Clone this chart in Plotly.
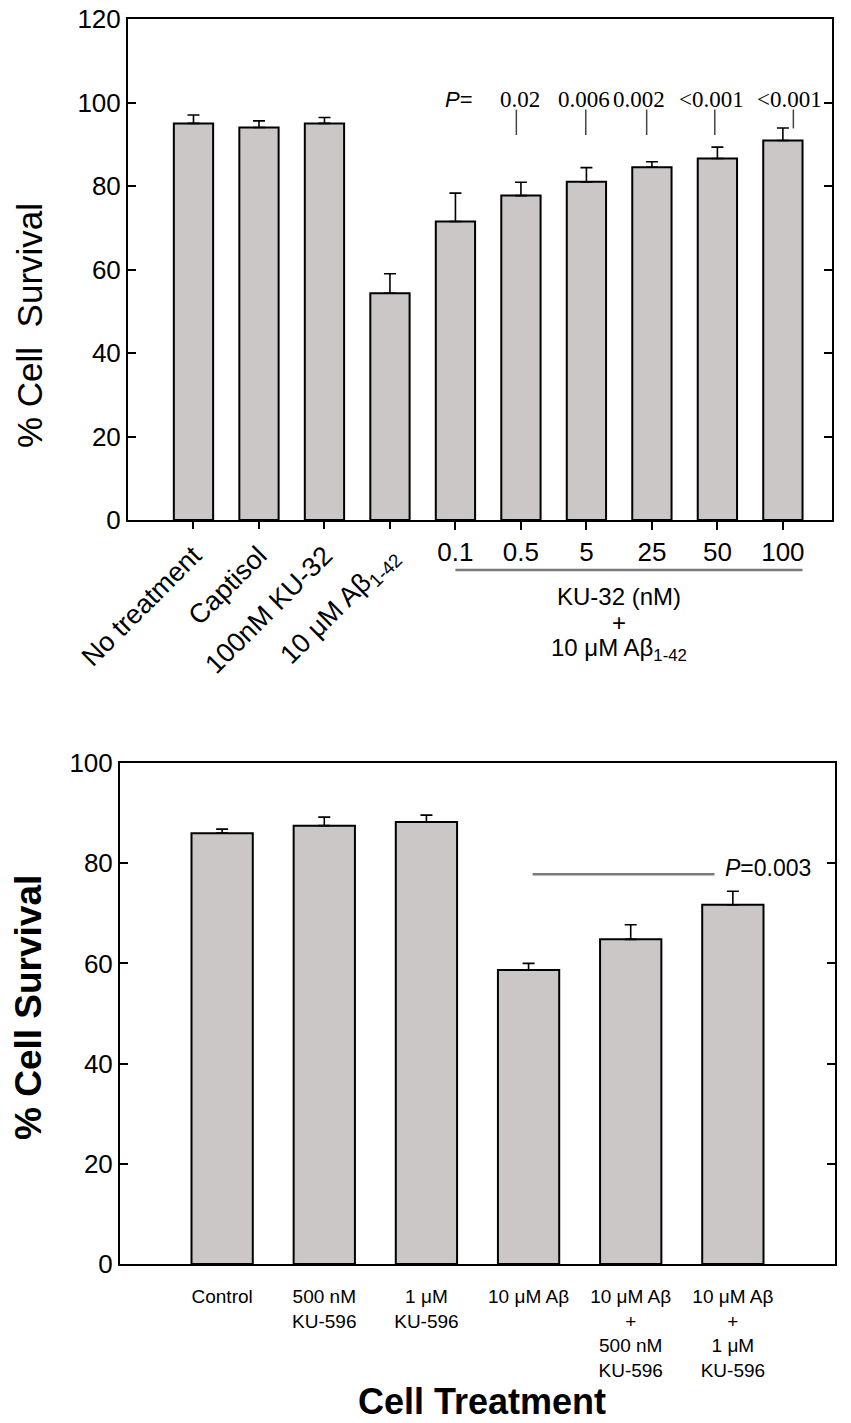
import plotly.graph_objects as go

# ---------------- data ----------------
top_labels = ["No treatment", "Captisol", "100nM KU-32", "10 μM Aβ<sub>1-42</sub>",
              "0.1", "0.5", "5", "25", "50", "100"]
top_survival = [95.0, 94.0, 95.0, 54.3, 71.5, 77.7, 81.0, 84.5, 86.6, 90.9]
top_sem = [2.0, 1.6, 1.4, 4.7, 6.8, 3.2, 3.4, 1.3, 2.7, 3.0]
top_pvalues = ["0.02", "0.006", "0.002", "<0.001", "<0.001"]

bot_labels = ["Control", "500 nM<br>KU-596", "1 μM<br>KU-596", "10 μM Aβ",
              "10 μM Aβ<br>+<br>500 nM<br>KU-596", "10 μM Aβ<br>+<br>1 μM<br>KU-596"]
bot_survival = [86.0, 87.5, 88.2, 58.7, 64.8, 71.7]
bot_sem = [0.8, 1.7, 1.4, 1.3, 2.9, 2.7]
bot_pvalue = "0.003"

BAR = "#cbc7c6"
SANS = "Liberation Sans, Arial, sans-serif"
NARROW = "Liberation Sans Narrow, Arial Narrow, Liberation Sans, sans-serif"
SERIF = "Liberation Serif, Times New Roman, serif"
W, H = 851, 1423


def px(pix):
    # page column -> paper fraction
    return pix / W


def py(pix):
    # page row -> paper fraction
    return 1 - pix / H


fig = go.Figure()

fig.add_trace(go.Bar(x=list(range(len(top_survival))), y=top_survival,
                     width=0.6, marker=dict(color=BAR, line=dict(color="black", width=2)),
                     error_y=dict(type="data", array=top_sem, arrayminus=[0] * len(top_sem),
                                  symmetric=False, color="black", thickness=1.6, width=6),
                     xaxis="x", yaxis="y", showlegend=False, hoverinfo="y"))

# empty trace so the overlaid axis with the slanted labels gets drawn
fig.add_trace(go.Scatter(x=list(range(4)), y=top_survival[:4], mode="none",
                         xaxis="x3", yaxis="y", showlegend=False, hoverinfo="skip"))

fig.add_trace(go.Bar(x=list(range(len(bot_survival))), y=bot_survival,
                     width=0.6, marker=dict(color=BAR, line=dict(color="black", width=2)),
                     error_y=dict(type="data", array=bot_sem, arrayminus=[0] * len(bot_sem),
                                  symmetric=False, color="black", thickness=1.6, width=6),
                     xaxis="x2", yaxis="y2", showlegend=False, hoverinfo="y"))

axis_common = dict(showgrid=False, zeroline=False, showline=True, automargin=False,
                   ticklabeloverflow="allow", linecolor="black", linewidth=2)

top_dom = [px(128), px(832)]

fig.update_layout(
    width=W, height=H, autosize=False,
    margin=dict(l=0, r=0, t=0, b=0, pad=0),
    paper_bgcolor="white", plot_bgcolor="white",
    bargap=0.4,
    xaxis=dict(axis_common, domain=top_dom, range=[-1, 9.75], anchor="y",
               mirror=True, tickvals=list(range(4, 10)), ticktext=top_labels[4:],
               ticks="outside", ticklen=8, tickwidth=1.5, tickcolor="black",
               tickfont=dict(family=NARROW, size=26, color="black")),
    # second x axis on the same scale, carrying the slanted labels
    xaxis3=dict(showgrid=False, zeroline=False, showline=False, automargin=False,
                ticklabeloverflow="allow",
                domain=top_dom, range=[-1, 9.75], anchor="y", overlaying="x", side="bottom",
                tickvals=list(range(4)), ticktext=top_labels[:4], tickangle=-45,
                ticks="outside", ticklen=8, tickwidth=1.5, tickcolor="black",
                tickfont=dict(family=SANS, size=27, color="black")),
    yaxis=dict(axis_common, domain=[py(520), py(19)], range=[0, 120], anchor="x",
               dtick=20, mirror="ticks", ticks="inside", ticklen=8, tickwidth=1.5,
               tickcolor="black", tickfont=dict(family=SANS, size=26, color="black")),
    xaxis2=dict(axis_common, domain=[px(120), px(835)], range=[-1, 6], anchor="y2",
                mirror=True, tickvals=list(range(6)), ticktext=bot_labels,
                ticks="", ticklabelstandoff=14,
                tickfont=dict(family=NARROW, size=19, color="black")),
    yaxis2=dict(axis_common, domain=[py(1264), py(763)], range=[0, 100], anchor="x2",
                dtick=20, mirror="ticks", ticks="inside", ticklen=8, tickwidth=1.5,
                tickcolor="black", tickfont=dict(family=SANS, size=26, color="black")),
)

# bracket under the KU-32 doses
fig.add_shape(type="line", xref="x", yref="paper", x0=4.0, x1=9.3, y0=py(570), y1=py(570),
              line=dict(color="#7a7a7a", width=2.5))
for txt, row in [("KU-32 (nM)", 596), ("+", 622), ("10 μM Aβ<sub>1-42</sub>", 649)]:
    fig.add_annotation(x=6.5, y=py(row), xref="x", yref="paper", text=txt, showarrow=False,
                       xanchor="center", yanchor="middle", borderpad=0,
                       font=dict(family=NARROW, size=24, color="black"))

# p-values of the top panel
fig.add_annotation(x=4.06, y=100.6, xref="x", yref="y", text="<i>P</i>=", showarrow=False,
                   font=dict(family=SANS, size=22, color="black"))
text_x = [4.99, 5.97, 6.81, 7.91, 9.1]
line_x = [4.93, 5.99, 6.92, 7.96, 9.16]
line_bottom = [92.2, 92.2, 92.2, 92.2, 93.8]
for tx, lx, lb, p in zip(text_x, line_x, line_bottom, top_pvalues):
    fig.add_annotation(x=tx, y=100.6, xref="x", yref="y", text=p, showarrow=False,
                       font=dict(family=SERIF, size=23, color="black"))
    fig.add_shape(type="line", xref="x", yref="y", x0=lx, x1=lx, y0=98.3, y1=lb,
                  line=dict(color="#444444", width=1.5))

# p-value of the bottom panel
fig.add_shape(type="line", xref="x2", yref="y2", x0=3.04, x1=4.82, y0=77.8, y1=77.8,
              line=dict(color="#7a7a7a", width=2.5))
fig.add_annotation(x=4.9, y=79.1, xref="x2", yref="y2", text="<i>P</i>=" + bot_pvalue,
                   xanchor="left", showarrow=False,
                   font=dict(family=SANS, size=23, color="black"))

# axis titles
fig.add_annotation(x=px(30), y=py(326), xref="paper", yref="paper", text="% Cell  Survival",
                   textangle=-90, showarrow=False, xanchor="center", yanchor="middle",
                   font=dict(family=SANS, size=35, color="black"))
fig.add_annotation(x=px(28), y=py(1008), xref="paper", yref="paper",
                   text="<b>% Cell Survival</b>", textangle=-90, showarrow=False,
                   xanchor="center", yanchor="middle",
                   font=dict(family=SANS, size=37, color="black"))
fig.add_annotation(x=px(482), y=py(1401), xref="paper", yref="paper",
                   text="<b>Cell Treatment</b>", showarrow=False,
                   xanchor="center", yanchor="middle",
                   font=dict(family=SANS, size=36, color="black"))

# the page's default body margin would shift the figure by 8 px
fig.write_html("out.html", config={"displayModeBar": False},
               post_script="document.body.style.margin = '0';")
